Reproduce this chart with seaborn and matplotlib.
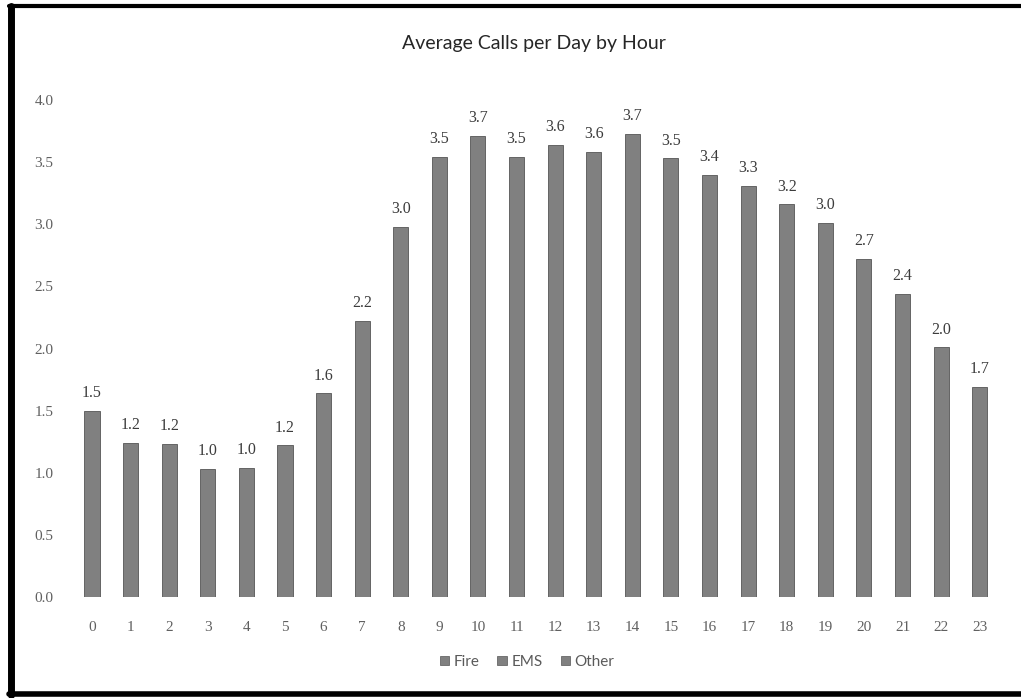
import matplotlib
matplotlib.use("Agg")
import matplotlib.pyplot as plt
from matplotlib.patches import Patch
from matplotlib.lines import Line2D
import seaborn as sns
import pandas as pd

# Average number of calls per day, by hour of day
hours = list(range(24))
avg_calls = [1.50, 1.24, 1.23, 1.03, 1.04, 1.22, 1.64, 2.22, 2.98, 3.54, 3.71, 3.54,
             3.64, 3.58, 3.73, 3.53, 3.40, 3.31, 3.16, 3.01, 2.72, 2.44, 2.01, 1.69]
legend_labels = ["Fire", "EMS", "Other"]
y_ticks = [0.0, 0.5, 1.0, 1.5, 2.0, 2.5, 3.0, 3.5, 4.0]
title = "Average Calls per Day by Hour"

df = pd.DataFrame({"hour": [str(h) for h in hours], "calls": avg_calls})

sns.set_theme(style="white")
plt.rcParams["font.family"] = ["Liberation Serif", "DejaVu Serif"]

W, H = 1021, 698
fig = plt.figure(figsize=(W / 100, H / 100), dpi=100)
ax = fig.add_axes([72.7 / W, 1 - 597 / H, (999 - 72.7) / W, (597 - 100) / H])

bar_color = "#808080"
sns.barplot(data=df, x="hour", y="calls", ax=ax, color=bar_color, width=0.39,
            edgecolor="#555555", linewidth=0.6, saturation=1)

ax.set_ylim(0, 4.0)
ax.set_xlim(-0.5, len(hours) - 0.5)
ax.set_yticks(y_ticks)
ax.set_yticklabels([f"{v:.1f}" for v in y_ticks])
ax.set_xlabel("")
ax.set_ylabel("")
ax.tick_params(axis="both", length=0, labelsize=11, colors="#606060")
ax.tick_params(axis="x", pad=17)
ax.tick_params(axis="y", pad=14)
for s in ax.spines.values():
    s.set_visible(False)

# value labels above each bar
for i, v in enumerate(avg_calls):
    ax.annotate(f"{v:.1f}", (i, v), xytext=(0, 7), textcoords="offset points",
                ha="center", va="bottom", fontsize=11.5, color="#3c3c3c")

fig.text(534 / W, 1 - 44 / H, title, ha="center", va="center",
         fontsize=14, color="#262626", family=["Lato", "DejaVu Sans"])

handles = [Patch(facecolor=bar_color, edgecolor="#555555", linewidth=0.5)
           for _ in legend_labels]
leg = fig.legend(handles, legend_labels, loc="center", ncol=3,
                 bbox_to_anchor=(527 / W, 1 - 662 / H), frameon=False,
                 handlelength=0.6, handleheight=0.6, handletextpad=0.3,
                 columnspacing=1.2, prop={"family": ["Lato", "DejaVu Sans"], "size": 11})
for t in leg.get_texts():
    t.set_color("#5a5a5a")

# black frame on the left, top and bottom
for (x0, y0, x1, y1, lw) in [(11, 6, 11, 695, 5), (9, 6, W, 6, 3), (9, 694, W, 694, 4)]:
    fig.add_artist(Line2D([x0 / W, x1 / W], [1 - y0 / H, 1 - y1 / H],
                          transform=fig.transFigure, color="black", linewidth=lw))

fig.savefig("out.png", dpi=100, facecolor="white")
